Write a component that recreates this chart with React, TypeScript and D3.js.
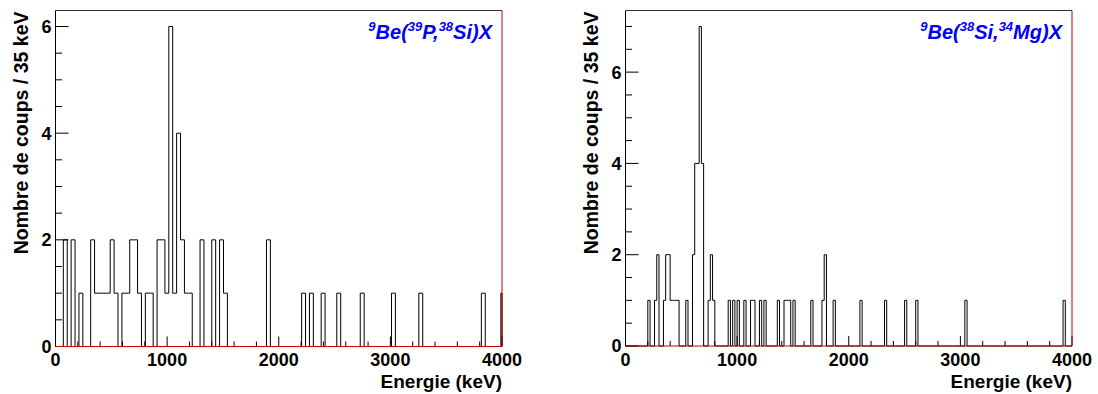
import React from 'react';
import * as d3 from 'd3';

// ---- data ----
const energyDomain = [0, 4000];
const xTickValues = [0, 1000, 2000, 3000, 4000];
const yTickValues = [0, 2, 4, 6];

// Left panel: 9Be(39P,38Si)X, 35 keV bins (lower edge in keV, counts)
const leftBinWidth = 35;
const leftBinStarts = [70, 140, 210, 315, 350, 385, 420, 455, 490, 525, 595, 630, 665, 700, 735, 805, 840, 910, 945, 980, 1015, 1050, 1085, 1120, 1155, 1190, 1295, 1400, 1470, 1505, 1890, 2205, 2275, 2380, 2520, 2730, 3010, 3255, 3815, 3990];
const leftCounts = [2, 2, 1, 2, 1, 1, 1, 1, 2, 1, 1, 1, 2, 2, 1, 1, 1, 2, 2, 1, 6, 1, 4, 2, 1, 1, 2, 2, 2, 1, 2, 1, 1, 1, 1, 1, 1, 1, 1, 1];

// Right panel: 9Be(38Si,34Mg)X
const rightBinWidth = 20;
const rightBinStarts = [200, 260, 280, 340, 360, 380, 400, 420, 440, 460, 540, 600, 620, 640, 660, 680, 740, 760, 780, 920, 960, 1000, 1060, 1120, 1140, 1200, 1240, 1360, 1420, 1440, 1460, 1500, 1660, 1760, 1780, 1860, 2100, 2320, 2500, 2600, 3040, 3920];
const rightCounts = [1, 1, 2, 1, 2, 2, 1, 1, 1, 1, 1, 2, 4, 4, 7, 4, 1, 2, 1, 1, 1, 1, 1, 1, 1, 1, 1, 1, 1, 1, 1, 1, 1, 1, 2, 1, 1, 1, 1, 1, 1, 1];

const leftTitle = [
  { t: '9', sup: true }, { t: 'Be(', sup: false }, { t: '39', sup: true },
  { t: 'P,', sup: false }, { t: '38', sup: true }, { t: 'Si)X', sup: false },
];
const rightTitle = [
  { t: '9', sup: true }, { t: 'Be(', sup: false }, { t: '38', sup: true },
  { t: 'Si,', sup: false }, { t: '34', sup: true }, { t: 'Mg)X', sup: false },
];

const xAxisTitle = 'Energie (keV)';
const yAxisTitle = 'Nombre de coups / 35 keV';

const FONT = '"Liberation Sans", Arial, Helvetica, sans-serif';

type PanelProps = {
  left: number; right: number; top: number; bottom: number; yMax: number;
  starts: number[]; counts: number[]; binWidth: number; title: { t: string; sup: boolean }[];
};

function Panel({ left, right, top, bottom, yMax, starts, counts, binWidth, title }: PanelProps) {
  const x = d3.scaleLinear().domain(energyDomain).range([left, right]);
  const y = d3.scaleLinear().domain([0, yMax]).range([bottom, top]);

  const nBins = Math.ceil(energyDomain[1] / binWidth);
  const values = new Array(nBins).fill(0);
  starts.forEach((s, i) => {
    values[Math.round(s / binWidth)] = counts[i];
  });
  const pts: [number, number][] = [[x(0), y(0)]];
  values.forEach((v, i) => {
    const lo = i * binWidth;
    const hi = Math.min((i + 1) * binWidth, energyDomain[1]);
    pts.push([x(lo), y(v)]);
    pts.push([x(hi), y(v)]);
  });
  pts.push([x(energyDomain[1]), y(0)]);
  const path = d3.line()(pts) || '';

  const yMinor = d3.range(0, yMax + 1e-9, 0.5);
  const xMinor = d3.range(0, energyDomain[1] + 1, 200);

  return (
    <g>
      <path d={path} fill="none" stroke="#000" strokeWidth={1} />
      {/* y ticks */}
      {yMinor.map((v) => {
        const major = Math.abs(v % 2) < 1e-9;
        return (
          <line key={'yt' + v} x1={left} x2={left + (major ? 13 : 6.5)} y1={y(v)} y2={y(v)} stroke="#000" strokeWidth={1} />
        );
      })}
      {xMinor.map((v) => {
        const major = v % 1000 === 0;
        return (
          <line key={'xt' + v} x1={x(v)} x2={x(v)} y1={bottom} y2={bottom - (major ? 10 : 5)} stroke="#000" strokeWidth={1} />
        );
      })}
      {/* frame */}
      <line x1={left} x2={left} y1={top} y2={bottom} stroke="#000" strokeWidth={1} />
      <line x1={left} x2={right} y1={top} y2={top} stroke="#333" strokeWidth={1} />
      <line x1={right} x2={right} y1={top} y2={bottom} stroke="#cc0000" strokeWidth={1} />
      <line x1={left} x2={right} y1={bottom} y2={bottom} stroke="#cc0000" strokeWidth={1} />
      {/* tick labels */}
      {yTickValues.filter((v) => v <= yMax).map((v) => (
        <text key={'yl' + v} x={left - 4} y={y(v)} dy="0.36em" textAnchor="end" fontFamily={FONT} fontWeight="bold" fontSize={18} fill="#000">
          {v}
        </text>
      ))}
      {xTickValues.map((v) => (
        <text key={'xl' + v} x={x(v)} y={366} textAnchor="middle" fontFamily={FONT} fontWeight="bold" fontSize={18} fill="#000">
          {v}
        </text>
      ))}
      {/* axis titles */}
      <text x={right} y={388} textAnchor="end" fontFamily={FONT} fontWeight="bold" fontSize={19} fill="#000">
        {xAxisTitle}
      </text>
      <text transform={`translate(${left - 28},${top + 1}) rotate(-90)`} textAnchor="end" fontFamily={FONT} fontWeight="bold" fontSize={19.5} fill="#000">
        {yAxisTitle}
      </text>
      {/* reaction label */}
      <text x={right - 10} y={39} textAnchor="end" fontFamily={FONT} fontWeight="bold" fontStyle="italic" fontSize={20} fill="#0000ff">
        {title.map((p, i) => {
          const prevSup = i > 0 && title[i - 1].sup;
          const dy = p.sup ? (prevSup ? 0 : -8) : (prevSup ? 8 : 0);
          return (
            <tspan key={i} fontSize={p.sup ? 13 : 20} dy={dy}>
              {p.t}
            </tspan>
          );
        })}
      </text>
    </g>
  );
}

export default function App() {
  return (
    <div style={{ position: 'absolute', left: 0, top: 0 }}>
      <svg width={1098} height={394} style={{ display: 'block', background: '#fff' }}>
        <Panel left={55.5} right={502} top={10.5} bottom={346.5} yMax={6.3}
          starts={leftBinStarts} counts={leftCounts} binWidth={leftBinWidth} title={leftTitle} />
        <Panel left={625.5} right={1072} top={10.5} bottom={346} yMax={7.35}
          starts={rightBinStarts} counts={rightCounts} binWidth={rightBinWidth} title={rightTitle} />
      </svg>
    </div>
  );
}
